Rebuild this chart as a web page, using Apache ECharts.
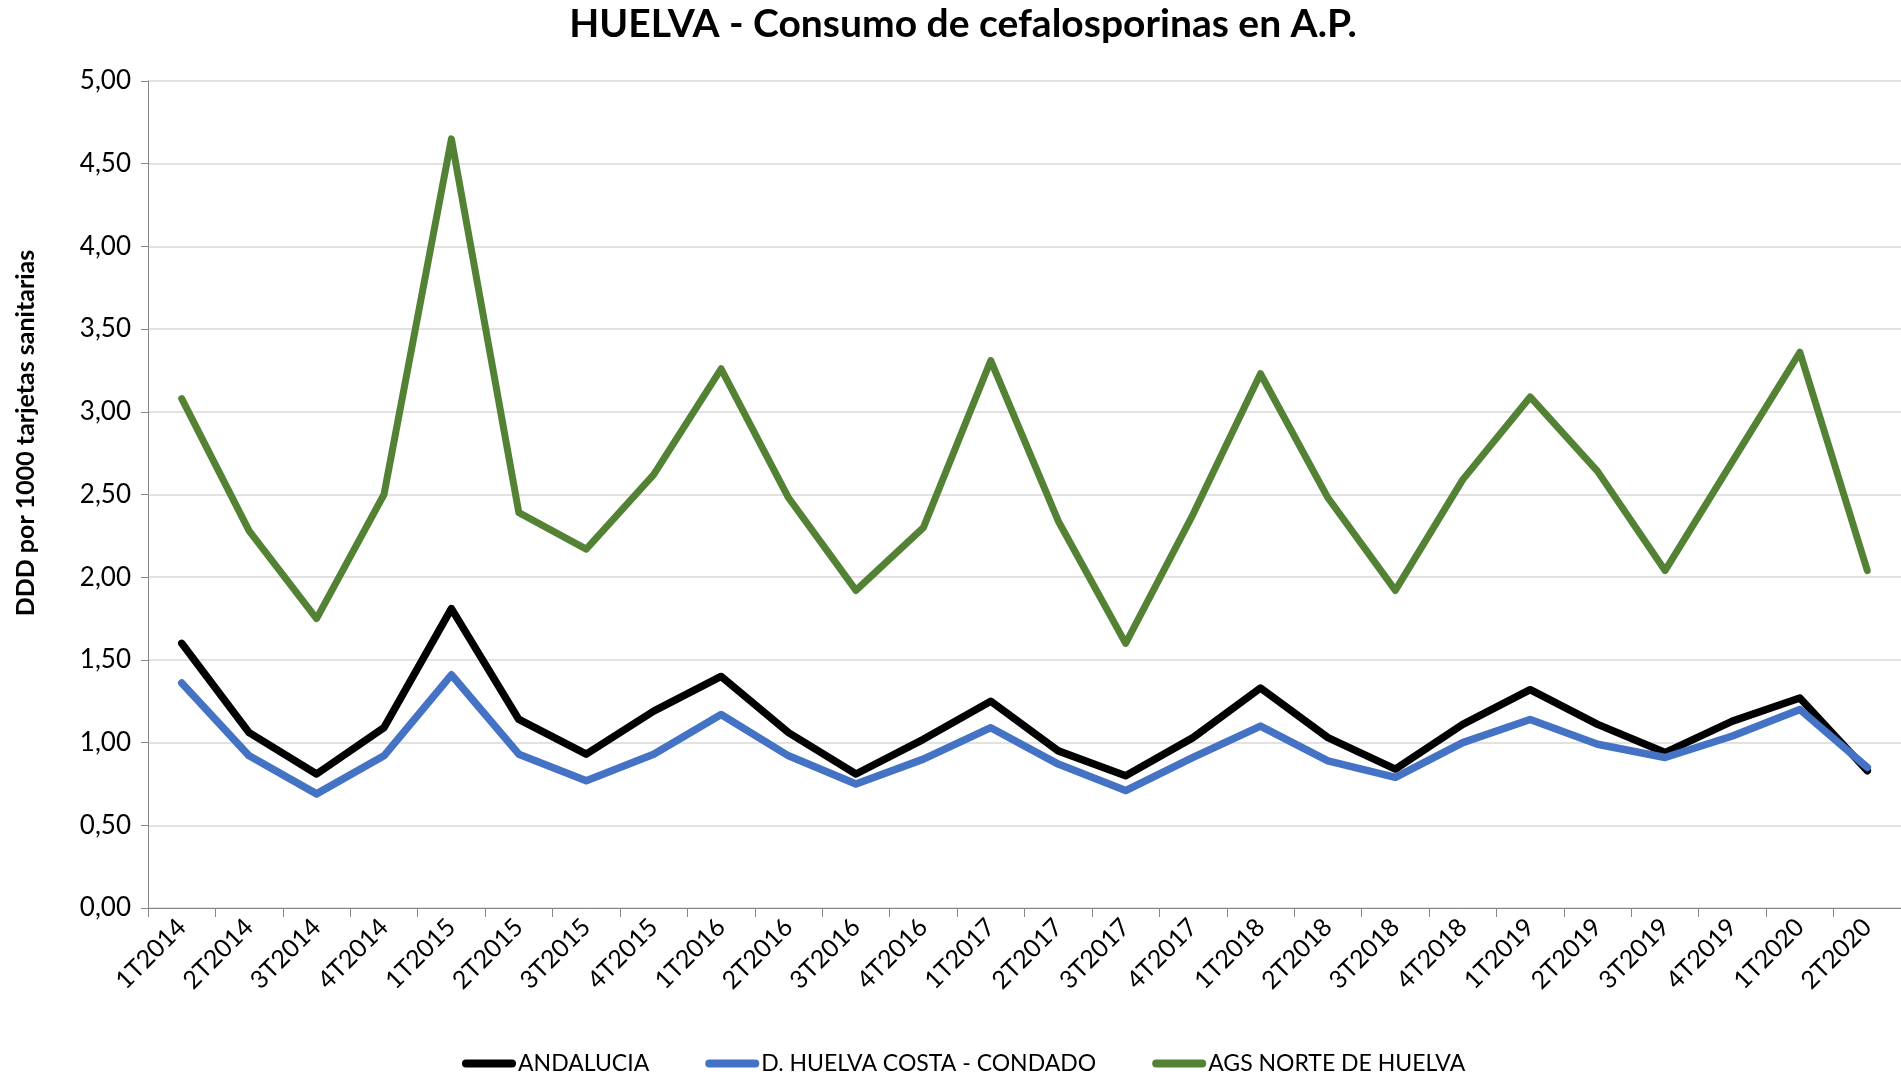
<!DOCTYPE html>
<html>
<head>
<meta charset="utf-8">
<title>HUELVA - Consumo de cefalosporinas en A.P.</title>
<script src="https://cdn.jsdelivr.net/npm/echarts@6/dist/echarts.min.js"></script>
<style>
  html, body { margin: 0; padding: 0; background: #ffffff; }
  #chart { width: 1901px; height: 1074px; }
</style>
</head>
<body>
<div id="chart"></div>
<script>
// Quarterly periods
const quarters = [
  '1T2014', '2T2014', '3T2014', '4T2014',
  '1T2015', '2T2015', '3T2015', '4T2015',
  '1T2016', '2T2016', '3T2016', '4T2016',
  '1T2017', '2T2017', '3T2017', '4T2017',
  '1T2018', '2T2018', '3T2018', '4T2018',
  '1T2019', '2T2019', '3T2019', '4T2019',
  '1T2020', '2T2020'
];

// DDD per 1000 health cards
const andalucia = [
  1.60, 1.06, 0.81, 1.09,
  1.81, 1.14, 0.93, 1.19,
  1.40, 1.06, 0.81, 1.02,
  1.25, 0.95, 0.80, 1.03,
  1.33, 1.03, 0.84, 1.11,
  1.32, 1.11, 0.94, 1.13,
  1.27, 0.83
];
const huelvaCostaCondado = [
  1.36, 0.92, 0.69, 0.92,
  1.41, 0.93, 0.77, 0.93,
  1.17, 0.92, 0.75, 0.90,
  1.09, 0.87, 0.71, 0.91,
  1.10, 0.89, 0.79, 1.00,
  1.14, 0.99, 0.91, 1.04,
  1.20, 0.85
];
const agsNorteHuelva = [
  3.08, 2.28, 1.75, 2.50,
  4.65, 2.39, 2.17, 2.62,
  3.26, 2.48, 1.92, 2.30,
  3.31, 2.34, 1.60, 2.38,
  3.23, 2.48, 1.92, 2.59,
  3.09, 2.64, 2.04, 2.70,
  3.36, 2.04
];

const seriesNames = ['ANDALUCIA', 'D. HUELVA COSTA - CONDADO', 'AGS NORTE DE HUELVA'];
const seriesColors = ['#000000', '#4472C4', '#548235'];

const FONT = 'Lato, "Open Sans", sans-serif';
const capsule = 'path://M4,0 L50,0 A4,4 0 0 1 50,8 L4,8 A4,4 0 0 1 4,0 Z';

const chart = echarts.init(document.getElementById('chart'), null, { renderer: 'canvas' });

chart.setOption({
  backgroundColor: '#ffffff',
  animation: false,
  title: {
    text: 'HUELVA - Consumo de cefalosporinas en A.P.',
    left: 958,
    textAlign: 'center',
    top: 0,
    textStyle: {
      fontFamily: FONT,
      fontWeight: 'bold',
      fontSize: 39,
      color: '#000000'
    }
  },
  legend: {
    top: 1047,
    left: 457,
    itemWidth: 54,
    itemHeight: 9,
    itemGap: 56,
    icon: capsule,
    textStyle: {
      fontFamily: FONT,
      fontSize: 23,
      color: '#000000',
      padding: [0, 0, 0, -3]
    },
    data: seriesNames
  },
  grid: {
    left: 148,
    right: 0,
    top: 81,
    bottom: 166,
    containLabel: false
  },
  xAxis: {
    type: 'category',
    data: quarters,
    boundaryGap: true,
    axisLine: { show: true, lineStyle: { color: '#868686', width: 1 } },
    axisTick: { show: true, interval: 0, length: 9, lineStyle: { color: '#868686' } },
    axisLabel: {
      interval: 0,
      rotate: 45,
      margin: 15,
      fontFamily: FONT,
      fontSize: 25,
      color: '#000000'
    },
    splitLine: { show: false }
  },
  yAxis: {
    type: 'value',
    min: 0,
    max: 5,
    interval: 0.5,
    axisLine: { show: true, lineStyle: { color: '#868686', width: 1 } },
    axisTick: { show: true, length: 7, lineStyle: { color: '#868686' } },
    axisLabel: {
      margin: 17,
      fontFamily: FONT,
      fontSize: 26,
      color: '#000000',
      formatter: v => v.toFixed(2).replace('.', ',')
    },
    splitLine: { show: true, lineStyle: { color: '#d9d9d9', width: 1.5 } }
  },
  graphic: [{
    type: 'text',
    x: 26,
    y: 433,
    rotation: Math.PI / 2,
    style: {
      text: 'DDD por 1000 tarjetas sanitarias',
      fontFamily: FONT,
      fontWeight: 'bold',
      fontSize: 25,
      fill: '#000000',
      align: 'center',
      verticalAlign: 'middle'
    }
  }],
  series: [
    { name: seriesNames[0], data: andalucia, width: 7.5 },
    { name: seriesNames[1], data: huelvaCostaCondado, width: 7.5 },
    { name: seriesNames[2], data: agsNorteHuelva, width: 7 }
  ].map((s, i) => ({
    type: 'line',
    name: s.name,
    data: s.data,
    symbol: 'none',
    smooth: false,
    color: seriesColors[i],
    lineStyle: { color: seriesColors[i], width: s.width, cap: 'round', join: 'round' }
  }))
});
</script>
</body>
</html>
